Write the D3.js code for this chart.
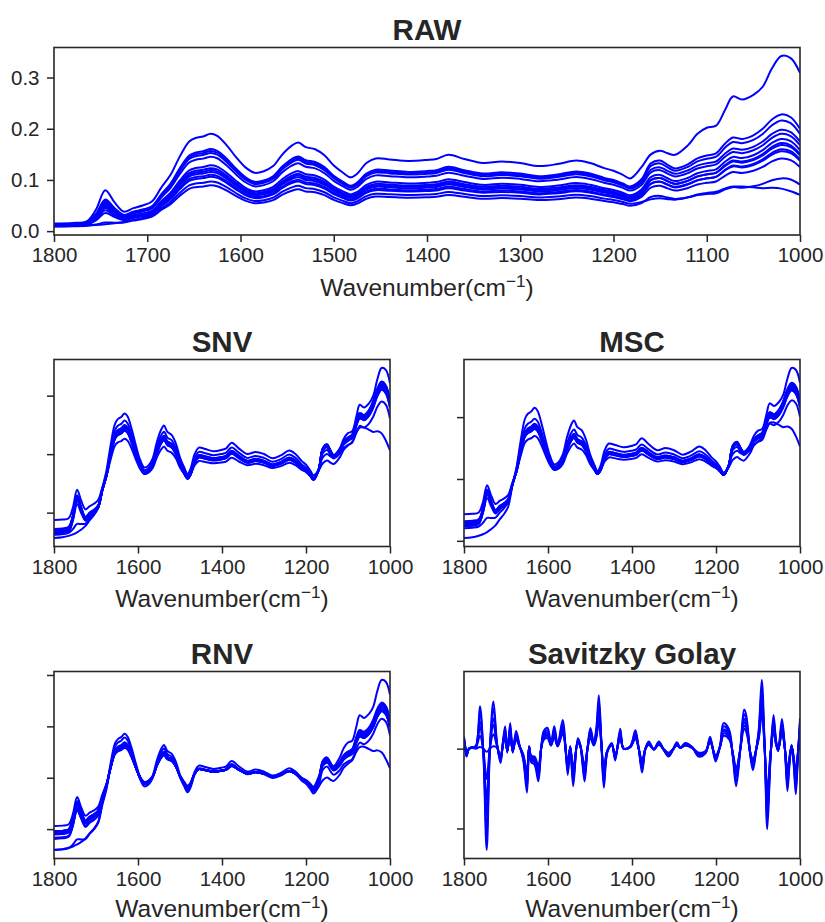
<!DOCTYPE html>
<html>
<head>
<meta charset="utf-8">
<script src="https://cdn.jsdelivr.net/npm/d3@7"></script>
<style>
  body { margin: 0; background: #ffffff; }
  svg { display: block; }
  text { font-family: "Liberation Sans", Arial, Helvetica, sans-serif; fill: #262626; }
</style>
</head>
<body>
<svg id="fig" width="825" height="922"></svg>
<script>
// ---------------- data ----------------
// Wavenumbers (cm^-1) at which the raw absorbance spectra are tabulated
const rawWave = [1800,1780,1765,1755,1745,1735,1725,1715,1705,1695,
  1685,1675,1665,1655,1648,1640,1632,1625,1615,1605,
  1595,1585,1575,1565,1555,1545,1538,1530,1520,1510,
  1500,1490,1482,1475,1465,1455,1440,1420,1400,1390,
  1377,1360,1340,1320,1300,1280,1260,1240,1225,1210,
  1200,1190,1182,1170,1160,1150,1142,1134,1120,1110,
  1100,1090,1080,1072,1062,1050,1040,1030,1020,1010,1000];

// Raw absorbance spectra, one array per sample
const sample01 = [.015,.016,.019,.042,.080,.056,.038,.045,.050,.058,
  .085,.110,.146,.175,.182,.185,.190,.186,.168,.145,
  .125,.114,.117,.127,.150,.167,.173,.164,.160,.148,
  .128,.114,.105,.112,.133,.142,.140,.137,.139,.141,
  .149,.141,.133,.136,.133,.127,.131,.138,.133,.123,
  .118,.110,.103,.125,.150,.157,.152,.149,.168,.190,
  .202,.206,.238,.263,.257,.266,.282,.318,.342,.338,.309];
const sample02 = [.0132,.0141,.0166,.0337,.0620,.0448,.0317,.0379,.0422,.0485,
  .0720,.0930,.1233,.1476,.1535,.1560,.1602,.1569,.1418,.1224,
  .1056,.0964,.0989,.1073,.1266,.1409,.1460,.1384,.1350,.1250,
  .1082,.0964,.0888,.0947,.1124,.1199,.1182,.1157,.1174,.1191,
  .1258,.1191,.1124,.1149,.1124,.1073,.1107,.1166,.1124,.1040,
  .0998,.0930,.0872,.1013,.1323,.1379,.1294,.1224,.1308,.1421,
  .1477,.1520,.1717,.1829,.1801,.1872,.1998,.2181,.2280,.2224,.1998];
const sample03 = [.0130,.0138,.0163,.0327,.0596,.0433,.0310,.0371,.0413,.0475,
  .0704,.0909,.1204,.1442,.1500,.1524,.1565,.1532,.1385,.1196,
  .1032,.0942,.0967,.1049,.1237,.1377,.1426,.1352,.1319,.1221,
  .1057,.0942,.0868,.0926,.1098,.1172,.1155,.1131,.1147,.1163,
  .1229,.1163,.1098,.1122,.1098,.1049,.1081,.1139,.1098,.1016,
  .0975,.0909,.0852,.0983,.1271,.1323,.1244,.1179,.1257,.1362,
  .1414,.1454,.1637,.1741,.1715,.1781,.1898,.2068,.2160,.2108,.1898];
const sample04 = [.0128,.0136,.0159,.0316,.0572,.0418,.0302,.0362,.0403,.0464,
  .0688,.0888,.1176,.1408,.1464,.1488,.1528,.1496,.1352,.1168,
  .1008,.0920,.0944,.1024,.1208,.1344,.1392,.1320,.1288,.1192,
  .1032,.0920,.0848,.0904,.1072,.1144,.1128,.1104,.1120,.1136,
  .1200,.1136,.1072,.1096,.1072,.1024,.1056,.1112,.1072,.0992,
  .0952,.0888,.0832,.0947,.1199,.1245,.1176,.1119,.1188,.1280,
  .1326,.1360,.1521,.1613,.1590,.1647,.1750,.1900,.1980,.1934,.1750];
const sample05 = [.0124,.0131,.0153,.0302,.0544,.0399,.0289,.0346,.0385,.0443,
  .0656,.0846,.1119,.1340,.1393,.1416,.1454,.1423,.1286,.1112,
  .0960,.0876,.0899,.0975,.1150,.1279,.1324,.1256,.1226,.1134,
  .0982,.0876,.0808,.0861,.1020,.1089,.1074,.1051,.1066,.1081,
  .1142,.1081,.1020,.1043,.1020,.0975,.1005,.1058,.1020,.0944,
  .0906,.0846,.0792,.0903,.1147,.1191,.1124,.1069,.1135,.1224,
  .1268,.1302,.1457,.1545,.1523,.1579,.1678,.1822,.1900,.1856,.1678];
const sample06 = [.0114,.0120,.0141,.0287,.0527,.0378,.0264,.0313,.0346,.0395,
  .0583,.0750,.0991,.1186,.1233,.1253,.1286,.1259,.1139,.0985,
  .0851,.0777,.0797,.0864,.1018,.1132,.1172,.1112,.1085,.1005,
  .0871,.0777,.0717,.0764,.0904,.0965,.0951,.0931,.0945,.0958,
  .1012,.0958,.0904,.0924,.0904,.0864,.0891,.0938,.0904,.0837,
  .0804,.0750,.0703,.0813,.1054,.1098,.1032,.0977,.1043,.1131,
  .1175,.1208,.1361,.1449,.1427,.1482,.1581,.1723,.1800,.1756,.1581];
const sample07 = [.0110,.0117,.0137,.0274,.0502,.0361,.0253,.0300,.0332,.0379,
  .0558,.0718,.0949,.1134,.1179,.1198,.1230,.1205,.1090,.0942,
  .0814,.0744,.0763,.0827,.0974,.1083,.1122,.1064,.1038,.0962,
  .0834,.0744,.0686,.0731,.0866,.0923,.0910,.0891,.0904,.0917,
  .0968,.0917,.0866,.0885,.0866,.0827,.0853,.0898,.0866,.0802,
  .0770,.0718,.0674,.0775,.0996,.1036,.0976,.0926,.0986,.1066,
  .1107,.1137,.1278,.1358,.1338,.1388,.1479,.1610,.1680,.1640,.1479];
const sample08 = [.0108,.0114,.0133,.0264,.0478,.0347,.0246,.0292,.0324,.0369,
  .0542,.0697,.0920,.1100,.1144,.1162,.1193,.1168,.1057,.0914,
  .0790,.0722,.0741,.0803,.0945,.1051,.1088,.1032,.1007,.0933,
  .0809,.0722,.0666,.0710,.0840,.0896,.0883,.0865,.0877,.0889,
  .0939,.0889,.0840,.0858,.0840,.0803,.0827,.0871,.0840,.0778,
  .0747,.0697,.0654,.0761,.0995,.1038,.0974,.0921,.0984,.1070,
  .1112,.1144,.1294,.1379,.1358,.1411,.1507,.1645,.1720,.1677,.1507];
const sample09 = [.0106,.0112,.0130,.0254,.0454,.0332,.0238,.0284,.0314,.0358,
  .0526,.0676,.0892,.1066,.1108,.1126,.1156,.1132,.1024,.0886,
  .0766,.0700,.0718,.0778,.0916,.1018,.1054,.1000,.0976,.0904,
  .0784,.0700,.0646,.0688,.0814,.0868,.0856,.0838,.0850,.0862,
  .0910,.0862,.0814,.0832,.0814,.0778,.0802,.0844,.0814,.0754,
  .0724,.0676,.0634,.0727,.0930,.0967,.0912,.0866,.0921,.0995,
  .1032,.1060,.1190,.1264,.1245,.1291,.1375,.1495,.1560,.1523,.1375];
const sample10 = [.0103,.0108,.0125,.0233,.0408,.0303,.0226,.0269,.0298,.0342,
  .0502,.0644,.0849,.1015,.1055,.1072,.1100,.1077,.0975,.0844,
  .0730,.0667,.0684,.0741,.0872,.0969,.1003,.0952,.0929,.0861,
  .0747,.0667,.0616,.0656,.0775,.0827,.0815,.0798,.0810,.0821,
  .0867,.0821,.0775,.0792,.0775,.0741,.0764,.0804,.0775,.0718,
  .0690,.0644,.0604,.0704,.0923,.0963,.0903,.0853,.0913,.0992,
  .1032,.1062,.1202,.1281,.1261,.1311,.1401,.1530,.1600,.1560,.1401];
const sample11 = [.0101,.0106,.0122,.0210,.0355,.0274,.0215,.0257,.0288,.0332,
  .0486,.0623,.0821,.0981,.1019,.1036,.1063,.1041,.0942,.0816,
  .0706,.0645,.0662,.0717,.0843,.0937,.0970,.0920,.0898,.0832,
  .0722,.0645,.0596,.0634,.0750,.0799,.0788,.0772,.0783,.0794,
  .0838,.0794,.0750,.0766,.0750,.0717,.0739,.0777,.0750,.0695,
  .0667,.0623,.0585,.0669,.0852,.0886,.0836,.0794,.0844,.0911,
  .0944,.0969,.1086,.1153,.1136,.1178,.1253,.1362,.1420,.1387,.1253];
const sample12 = [.0091,.0095,.0104,.0130,.0167,.0166,.0169,.0206,.0238,.0284,
  .0413,.0528,.0693,.0827,.0859,.0873,.0896,.0877,.0794,.0689,
  .0597,.0546,.0560,.0606,.0712,.0790,.0817,.0776,.0758,.0702,
  .0610,.0546,.0505,.0537,.0633,.0675,.0666,.0652,.0661,.0670,
  .0707,.0670,.0633,.0647,.0633,.0606,.0624,.0656,.0633,.0587,
  .0564,.0528,.0495,.0549,.0666,.0688,.0656,.0629,.0661,.0704,
  .0725,.0741,.0816,.0859,.0848,.0875,.0923,.0993,.1030,.1009,.0910];
const sample13 = [.0095,.0100,.0110,.0120,.0135,.0155,.0180,.0220,.0255,.0305,
  .0445,.0570,.0750,.0895,.0930,.0945,.0970,.0950,.0860,.0745,
  .0645,.0590,.0605,.0655,.0770,.0855,.0885,.0840,.0820,.0760,
  .0660,.0590,.0545,.0580,.0685,.0730,.0720,.0705,.0715,.0725,
  .0765,.0725,.0685,.0700,.0685,.0655,.0675,.0710,.0685,.0635,
  .0610,.0570,.0535,.0570,.0620,.0640,.0625,.0615,.0660,.0715,
  .0745,.0770,.0835,.0870,.0872,.0855,.0840,.0845,.0830,.0780,.0710];
const rawSpectra = [sample01, sample02, sample03, sample04, sample05, sample06, sample07,
  sample08, sample09, sample10, sample11, sample12, sample13];

// Savitzky-Golay second-derivative spectra (arbitrary units)
const sgWave = [1800,1797,1794,1788,1780,1772,1762,1754,1746,1738,
  1730,1721,1713,1707,1702,1697,1690,1684,1676,1668,
  1659,1650,1645,1640,1632,1623,1616,1610,1601,1593,
  1585,1577,1565,1553,1547,1540,1529,1523,1513,1506,
  1499,1491,1485,1479,1473,1467,1459,1448,1440,1428,
  1420,1404,1392,1384,1376,1368,1360,1348,1336,1324,
  1313,1303,1293,1285,1273,1257,1241,1225,1214,1201,
  1190,1182,1169,1160,1152,1142,1133,1128,1118,1112,
  1104,1098,1091,1084,1078,1070,1063,1057,1052,1043,
  1036,1030,1025,1020,1015,1010,1005,1000];
const sgSeries1 = [.15,.02,-.10,.00,.02,.03,.53,-.05,-1.27,.05,
  .59,.05,-.18,.10,.28,-.05,.32,-.05,.22,.05,
  -.14,-.55,.03,-.17,-.20,-.41,.02,.22,.26,.07,
  .28,.05,.36,-.33,.03,-.47,.13,.05,-.41,.00,
  .26,.08,.25,.67,.10,-.49,-.05,.07,-.15,.25,
  .00,.03,.23,.00,-.30,.00,.09,-.01,.09,-.02,
  -.10,-.02,.08,.01,.07,.02,-.10,-.06,.15,-.16,
  .05,.32,.24,-.10,-.47,.00,.49,.42,-.10,-.27,
  .00,.25,.86,.00,-1.01,-.10,.42,.10,-.03,.37,
  .00,-.53,-.20,.05,-.20,-.57,-.10,.38];
const sgSeries2 = [.13,.02,-.09,.00,.02,.03,.45,-.04,-1.08,.04,
  .50,.04,-.16,.09,.24,-.04,.28,-.04,.19,.04,
  -.12,-.48,.03,-.15,-.17,-.36,.02,.19,.23,.06,
  .24,.04,.31,-.29,.03,-.41,.11,.04,-.36,.00,
  .23,.07,.22,.58,.09,-.43,-.04,.06,-.13,.22,
  .00,.03,.20,.00,-.26,.00,.08,-.01,.08,-.02,
  -.09,-.02,.07,.01,.06,.02,-.09,-.05,.13,-.14,
  .04,.28,.21,-.09,-.41,.00,.43,.37,-.09,-.23,
  .00,.22,.75,.00,-.88,-.09,.37,.09,-.03,.32,
  .00,-.46,-.17,.04,-.17,-.50,-.09,.33];
const sgSeries3 = [.11,.02,-.08,.00,.01,.02,.34,-.03,-.83,.03,
  .38,.04,-.13,.08,.21,-.04,.24,-.04,.17,.04,
  -.11,-.41,.02,-.13,-.15,-.31,.02,.17,.20,.05,
  .21,.04,.27,-.25,.02,-.35,.10,.04,-.31,.00,
  .20,.06,.19,.50,.08,-.37,-.04,.05,-.11,.19,
  .00,.02,.17,.00,-.23,.00,.07,-.01,.07,-.02,
  -.08,-.02,.06,.01,.05,.02,-.08,-.05,.11,-.12,
  .04,.24,.18,-.08,-.35,.00,.37,.32,-.08,-.20,
  .00,.19,.65,.00,-.76,-.08,.32,.08,-.02,.28,
  .00,-.40,-.15,.04,-.15,-.43,-.08,.29];
const sgSeries4 = [.12,.01,-.07,.00,.01,.02,.27,-.03,-.64,.03,
  .30,.03,-.12,.07,.19,-.03,.22,-.03,.15,.03,
  -.10,-.37,.02,-.12,-.14,-.28,.01,.15,.18,.05,
  .19,.03,.24,-.22,.02,-.32,.09,.03,-.28,.00,
  .18,.05,.17,.46,.07,-.33,-.03,.05,-.10,.17,
  .00,.02,.16,.00,-.20,.00,.06,-.01,.06,-.01,
  -.07,-.01,.05,.01,.05,.01,-.07,-.04,.10,-.11,
  .03,.22,.16,-.07,-.32,.00,.33,.29,-.07,-.18,
  .00,.17,.58,.00,-.69,-.07,.29,.07,-.02,.25,
  .00,-.36,-.14,.03,-.14,-.39,-.07,.26];
const sgSeries5 = [.09,.01,-.06,.00,.01,.01,.16,-.02,-.38,.02,
  .18,.02,-.11,.06,.17,-.03,.19,-.03,.13,.03,
  -.08,-.33,.02,-.10,-.12,-.25,.01,.13,.16,.04,
  .17,.03,.22,-.20,.02,-.28,.08,.03,-.25,.00,
  .16,.05,.15,.40,.06,-.29,-.03,.04,-.09,.15,
  .00,.02,.14,.00,-.18,.00,.05,-.01,.05,-.01,
  -.06,-.01,.05,.01,.04,.01,-.06,-.04,.09,-.10,
  .03,.19,.14,-.06,-.28,.00,.29,.25,-.06,-.16,
  .00,.15,.52,.00,-.61,-.06,.25,.06,-.02,.22,
  .00,-.32,-.12,.03,-.12,-.34,-.06,.23];
const sgSeries6 = [.05,.01,-.05,.00,.01,.00,.02,.00,-.04,.00,
  .03,.01,-.09,.05,.14,-.03,.16,-.03,.11,.03,
  -.07,-.28,.02,-.09,-.10,-.21,.01,.11,.13,.04,
  .14,.03,.18,-.17,.02,-.24,.07,.03,-.21,.00,
  .13,.04,.13,.34,.05,-.25,-.03,.04,-.08,.13,
  .00,.02,.12,.00,-.15,.00,.05,.00,.05,-.01,
  -.05,-.01,.04,.01,.04,.01,-.05,-.03,.08,-.08,
  .03,.16,.12,-.05,-.24,.00,.25,.21,-.05,-.14,
  .00,.13,.43,.00,-.51,-.05,.21,.05,-.02,.19,
  .00,-.27,-.10,.03,-.10,-.29,-.05,.19];
const sgSpectra = [sgSeries1, sgSeries2, sgSeries3, sgSeries4, sgSeries5, sgSeries6];

// Axis ticks (the preprocessed panels carry unlabelled tick marks)
const rawXTicks = [1800, 1700, 1600, 1500, 1400, 1300, 1200, 1100, 1000];
const smallXTicks = [1800, 1600, 1400, 1200, 1000];
const rawYTicks = [0.0, 0.1, 0.2, 0.3];
const snvYTicks = [-1.7, 0.2, 2.1];
const mscYTicks = [-0.01, 0.066, 0.142];
const rnvYTicks = [-2.8, -0.3, 2.2, 4.7];
const sgYTicks = [-1, 0];

// ---------------- preprocessing ----------------
// trapezoid weights so the unevenly spaced grid behaves like a uniform scan
const wts = rawWave.map((w, i) => {
  const a = i > 0 ? Math.abs(rawWave[i - 1] - w) : 0;
  const b = i < rawWave.length - 1 ? Math.abs(w - rawWave[i + 1]) : 0;
  return (a + b) / 2;
});
const wsum = d3.sum(wts);
const wmean = x => d3.sum(x, (v, i) => v * wts[i]) / wsum;
const wstd = x => { const m = wmean(x); return Math.sqrt(d3.sum(x, (v, i) => wts[i] * (v - m) ** 2) / wsum); };
function wquantile(x, q) {
  const idx = d3.range(x.length).sort((a, b) => x[a] - x[b]);
  let acc = 0; const target = q * wsum;
  for (const i of idx) { acc += wts[i]; if (acc >= target) return x[i]; }
  return x[idx[idx.length - 1]];
}

// Standard normal variate
const snvSpectra = rawSpectra.map(x => { const m = wmean(x), s = wstd(x); return x.map(v => (v - m) / s); });

// Multiplicative scatter correction against the mean spectrum
const meanSpectrum = rawWave.map((_, j) => d3.mean(rawSpectra, s => s[j]));
const mscSpectra = rawSpectra.map(x => {
  const mr = wmean(meanSpectrum), mx = wmean(x);
  const cov = d3.sum(x, (v, i) => wts[i] * (v - mx) * (meanSpectrum[i] - mr));
  const vr = d3.sum(meanSpectrum, (v, i) => wts[i] * (v - mr) ** 2);
  const b = cov / vr, a = mx - b * mr;
  return x.map(v => (v - a) / b);
});

// Robust normal variate (median centred, inter-quartile scaled)
const rnvSpectra = rawSpectra.map(x => {
  const med = wquantile(x, 0.5), iqr = wquantile(x, 0.75) - wquantile(x, 0.25);
  return x.map(v => (v - med) / iqr);
});

// ---------------- drawing ----------------
const svg = d3.select("#fig");
const INK = "#262626";
const TICK_FS = 20.5, LABEL_FS = 24.5, TITLE_FS = 29.5;

function drawPanel(p) {
  const x = d3.scaleLinear().domain([1800, 1000]).range([p.x0, p.x1]);
  const [mn, mx] = d3.extent(p.series.flat());
  const pad = (mx - mn) * 0.05;
  const y = d3.scaleLinear().domain([mn - pad, mx + pad]).range([p.y1, p.y0]);

  const clipId = "clip-" + p.key;
  svg.append("clipPath").attr("id", clipId)
    .append("rect").attr("x", p.x0).attr("y", p.y0)
    .attr("width", p.x1 - p.x0).attr("height", p.y1 - p.y0);

  const line = d3.line()
    .x((d, i) => x(p.wave[i]))
    .y(d => y(d))
    .curve(d3.curveCatmullRom.alpha(0.5));

  svg.append("g").attr("clip-path", `url(#${clipId})`)
    .selectAll("path").data(p.series).join("path")
    .attr("d", line)
    .attr("fill", "none")
    .attr("stroke", "#0000ff")
    .attr("stroke-width", 2)
    .attr("stroke-linejoin", "round");

  // bottom axis
  const gx = svg.append("g").attr("transform", `translate(0,${p.y1})`)
    .call(d3.axisBottom(x).tickValues(p.xTicks).tickSize(7).tickSizeOuter(0).tickPadding(5.5).tickFormat(d3.format("d")));
  gx.select(".domain").remove();
  gx.selectAll(".tick line").attr("stroke", INK).attr("stroke-width", 1.5);
  gx.selectAll(".tick text").attr("font-size", TICK_FS).attr("fill", INK)
    .style("font-family", '"Liberation Sans", Arial, sans-serif');

  // left axis
  const ax = d3.axisLeft(y).tickValues(p.yTicks).tickSize(7).tickSizeOuter(0).tickPadding(7.5);
  ax.tickFormat(p.yLabels ? d3.format(".1f") : () => "");
  const gy = svg.append("g").attr("transform", `translate(${p.x0},0)`).call(ax);
  gy.select(".domain").remove();
  gy.selectAll(".tick line").attr("stroke", INK).attr("stroke-width", 1.5);
  gy.selectAll(".tick text").attr("font-size", TICK_FS).attr("fill", INK)
    .style("font-family", '"Liberation Sans", Arial, sans-serif');

  // frame
  svg.append("rect")
    .attr("x", p.x0).attr("y", p.y0)
    .attr("width", p.x1 - p.x0).attr("height", p.y1 - p.y0)
    .attr("fill", "none").attr("stroke", INK).attr("stroke-width", 1.6);

  // title
  svg.append("text")
    .attr("x", (p.x0 + p.x1) / 2).attr("y", p.titleY)
    .attr("text-anchor", "middle")
    .attr("font-size", TITLE_FS).attr("font-weight", "bold")
    .text(p.title);

  // x label with superscript
  const lab = svg.append("text")
    .attr("x", (p.x0 + p.x1) / 2).attr("y", p.labelY)
    .attr("text-anchor", "middle")
    .attr("font-size", LABEL_FS);
  lab.append("tspan").text("Wavenumber(cm");
  lab.append("tspan").attr("dy", -9).attr("font-size", LABEL_FS * 0.7).text("\u22121");
  lab.append("tspan").attr("dy", 9).text(")");
}

const panels = [
  { key: "raw", title: "RAW", wave: rawWave, series: rawSpectra, xTicks: rawXTicks, yTicks: rawYTicks, yLabels: true,
    x0: 54, x1: 800, y0: 47.5, y1: 235, titleY: 39.5, labelY: 295.5 },
  { key: "snv", title: "SNV", wave: rawWave, series: snvSpectra, xTicks: smallXTicks, yTicks: snvYTicks, yLabels: false,
    x0: 54, x1: 390, y0: 359.5, y1: 546.5, titleY: 351.5, labelY: 607 },
  { key: "msc", title: "MSC", wave: rawWave, series: mscSpectra, xTicks: smallXTicks, yTicks: mscYTicks, yLabels: false,
    x0: 464, x1: 800, y0: 359.5, y1: 546.5, titleY: 351.5, labelY: 607 },
  { key: "rnv", title: "RNV", wave: rawWave, series: rnvSpectra, xTicks: smallXTicks, yTicks: rnvYTicks, yLabels: false,
    x0: 54, x1: 390, y0: 671.5, y1: 858.5, titleY: 663.5, labelY: 917 },
  { key: "sg", title: "Savitzky Golay", wave: sgWave, series: sgSpectra, xTicks: smallXTicks, yTicks: sgYTicks, yLabels: false,
    x0: 464, x1: 800, y0: 671.5, y1: 858.5, titleY: 663.5, labelY: 917 }
];
panels.forEach(drawPanel);
</script>
</body>
</html>
